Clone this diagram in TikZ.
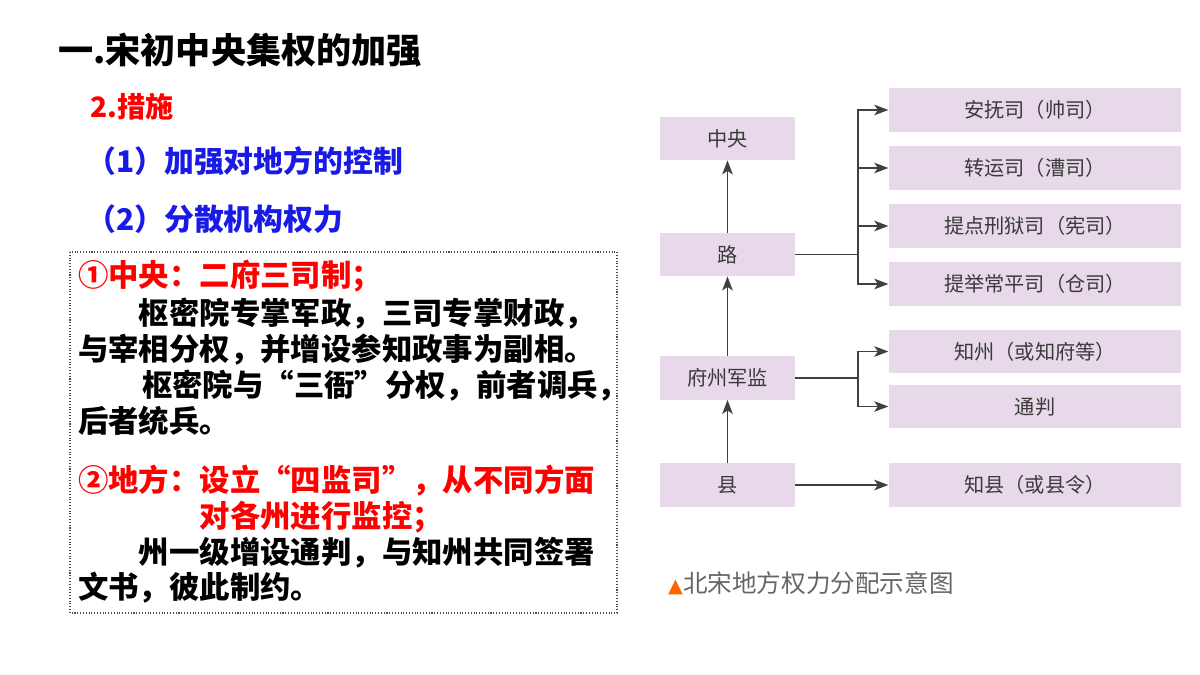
\documentclass[tikz,border=0pt]{standalone}
\usepackage{fontspec}
\setmainfont{Noto Sans CJK SC}
\newfontfamily\cjk{Noto Sans CJK SC}
\newfontfamily\symfont{DejaVu Sans}
\usetikzlibrary{positioning,arrows.meta}
\definecolor{boxfill}{HTML}{E7D9E9}
\definecolor{boxtext}{HTML}{3A3A3A}
\definecolor{myred}{HTML}{FF0000}
\definecolor{myblue}{HTML}{1A1AE6}
\tikzset{
    org/.style={fill=boxfill,minimum height=24.5pt,text=boxtext,font=\fontsize{11.5}{13}\selectfont,inner sep=0pt},
    lorg/.style={org,minimum width=76.5pt},
    rorg/.style={org,minimum width=166.5pt},
    link/.style={draw=black!75,line width=0.8pt,-{Stealth[length=8pt,width=6pt,inset=2pt]}}
}
\begin{document}
\begin{tikzpicture}[x=0.02cm,y=-0.02cm,every node/.style={anchor=center}]
    \useasboundingbox (0,0) rectangle (1200,675);
    % left text
    \node[anchor=west,font=\fontsize{20}{24}\selectfont\bfseries] (title) at (52,50) {一.宋初中央集权的加强};
    \node[anchor=west,text=myred,font=\fontsize{16}{19}\selectfont\bfseries] (step) at (84,107) {2.措施};
    \node[anchor=west,text=myblue,font=\fontsize{17}{20}\selectfont\bfseries] (sub1) at (80,161) {（1）加强对地方的控制};
    \node[anchor=west,text=myblue,font=\fontsize{17}{20}\selectfont\bfseries] (sub2) at (80,219) {（2）分散机构权力};
    \draw[densely dotted,line width=0.6pt,black!70] (70,252) rectangle (617,613);
    \begin{scope}[every node/.style={anchor=west,font=\fontsize{17.3}{20}\selectfont\bfseries}]
        \node[text=myred] (c1) at (72,276) {①中央：二府三司制；};
        \node (c2) at (72,314) {\hspace{2em}枢密院专掌军政，三司专掌财政，};
        \node (c3) at (72,350) {与宰相分权，并增设参知政事为副相。};
        \node (c4) at (72,386) {\hspace{2.1em}枢密院与“三衙”分权，前者调兵，};
        \node (c5) at (72,421) {后者统兵。};
        \node[text=myred] (d1) at (72,481) {②地方：设立“四监司”，从不同方面};
        \node[text=myred] (d2) at (72,517) {\hspace{4em}对各州进行监控；};
        \node (d3) at (72,553) {\hspace{2em}州一级增设通判，与知州共同签署};
        \node (d4) at (72,588) {文书，彼此制约。};
    \end{scope}
    % diagram
    \node[lorg] (zy) at (727.5,138.5) {中央};
    \node[lorg] (lu) at (727.5,254.5) {路};
    \node[lorg] (fz) at (727.5,378) {府州军监};
    \node[lorg] (xian) at (727.5,485) {县};
    \node[rorg] (af) at (1035,110) {安抚司（帅司）};
    \node[rorg] (zyun) at (1035,168) {转运司（漕司）};
    \node[rorg] (td) at (1035,226) {提点刑狱司（宪司）};
    \node[rorg] (tj) at (1035,284) {提举常平司（仓司）};
    \node[rorg] (zz) at (1035,351.5) {知州（或知府等）};
    \node[rorg] (tp) at (1035,406.5) {通判};
    \node[rorg] (zx) at (1035,485) {知县（或县令）};
    \coordinate (b1) at (858,254.5);
    \coordinate (b2) at (858,378);
    \draw[link] (lu) -- (zy);
    \draw[link] (fz) -- (lu);
    \draw[link] (xian) -- (fz);
    \draw[link] (xian) -- (zx);
    \draw[line width=0.8pt,draw=black!75] (lu) -- (b1);
    \draw[line width=0.8pt,draw=black!75] (fz) -- (b2);
    \foreach \t in {af,zyun,td,tj}
        \draw[link] (b1) |- (\t);
    \foreach \t in {zz,tp}
        \draw[link] (b2) |- (\t);
    \node[anchor=west,text=black!60,font=\fontsize{14}{16}\selectfont] (cap) at (662,583) {{\symfont\color{orange!80!red}\fontsize{11}{13}\selectfont ▲}北宋地方权力分配示意图};
\end{tikzpicture}
\end{document}
